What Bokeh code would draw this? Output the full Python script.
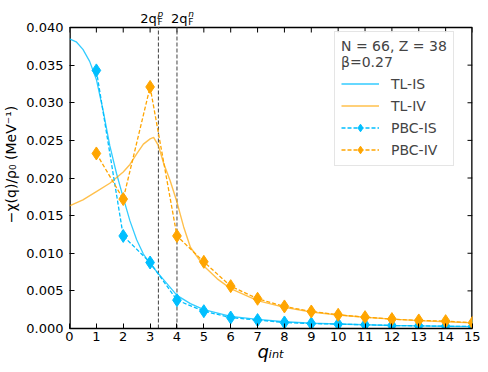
from bokeh.plotting import figure
from bokeh.models import (Legend, LegendItem, FixedTicker, PrintfTickFormatter,
                          Label, Range1d)
from bokeh.embed import file_html
from bokeh.resources import INLINE

# ---- data ----
q_pbc = [1, 2, 3, 4, 5, 6, 7, 8, 9, 10, 11, 12, 13, 14, 15]
pbc_is = [0.0343, 0.0123, 0.00877, 0.00377, 0.0023, 0.00146, 0.00112, 0.0008, 0.00066,
          0.00058, 0.0005, 0.0004, 0.00035, 0.0003, 0.00027]
pbc_iv = [0.02326, 0.0172, 0.0321, 0.0123, 0.00886, 0.00563, 0.00395, 0.00293, 0.00226,
          0.00182, 0.00151, 0.00125, 0.00107, 0.00098, 0.00076]

q_tl_is = [0, 0.25, 0.5, 0.75, 1.0, 1.25, 1.5, 1.75, 2.0, 2.25, 2.5, 2.75, 3.0, 3.31, 3.5,
           4.0, 4.5, 5, 6, 7, 8, 9, 10, 11, 12, 13, 14, 15]
tl_is = [0.0385, 0.0381, 0.0371, 0.0355, 0.0331, 0.0290, 0.0243, 0.0206, 0.0174, 0.0143,
         0.0118, 0.0099, 0.0086, 0.0073, 0.0065, 0.0044, 0.0033, 0.0025, 0.0016, 0.0012,
         0.0009, 0.0007, 0.0006, 0.0005, 0.0004, 0.00035, 0.0003, 0.00026]

q_tl_iv = [0, 0.5, 1.0, 1.5, 2.0, 2.25, 2.5, 2.75, 3.0, 3.13, 3.31, 3.5, 3.75, 4.0, 4.12,
           4.25, 4.5, 5, 5.5, 6, 7, 8, 9, 10, 11, 12, 13, 14, 15]
tl_iv = [0.0163, 0.0171, 0.0182, 0.0193, 0.0208, 0.0218, 0.0232, 0.0245, 0.0252, 0.0254,
         0.0243, 0.0220, 0.0196, 0.0168, 0.0152, 0.0135, 0.0108, 0.0083, 0.0066, 0.0053,
         0.0037, 0.0028, 0.0022, 0.0018, 0.0015, 0.00125, 0.00105, 0.0009, 0.00075]

fermi_lines = [3.31, 4.0]
fermi_label_right = [3.25, 4.39]      # right edge of the "2q" part of each label
fermi_sup = ["p", "n"]
x_ticks = list(range(0, 16))
y_ticks = [0.0, 0.005, 0.01, 0.015, 0.02, 0.025, 0.03, 0.035, 0.04]

FONT = "DejaVu Sans"
IS_C = "#00BFFF"
IV_C = "#FFA500"

# layout (pixels)
W = 480
BL, BR, BB = 69, 8, 36
HEAD = 27                     # strip above the axes box that holds the 2q_F labels
BOX_H = 301                   # height of the axes box
FRAME_W = W - BL - BR
H = HEAD + BOX_H + BB
XMIN, XMAX, YMIN, YMAX = 0, 15, 0, 0.04
PX = (YMAX - YMIN) / BOX_H    # data units per pixel (vertical)
YTOP = YMAX + HEAD * PX
TICK = 5

p = figure(width=W, height=H, x_range=Range1d(XMIN, XMAX), y_range=Range1d(YMIN, YTOP),
           output_backend="svg", toolbar_location=None,
           min_border_left=BL, min_border_right=BR, min_border_top=0, min_border_bottom=BB)
p.grid.visible = False
p.outline_line_color = None

for ax in (p.xaxis[0], p.yaxis[0]):
    ax.major_tick_in = TICK
    ax.major_tick_out = 0
    ax.minor_tick_in = 0
    ax.minor_tick_out = 0
    ax.axis_line_color = "black"
    ax.axis_line_width = 1.3
    ax.major_tick_line_color = "black"
    ax.major_label_text_font = FONT
    ax.major_label_text_font_size = "13px"
    ax.major_label_text_color = "black"
    ax.axis_label_text_font = FONT
    ax.axis_label_text_color = "black"
p.yaxis.axis_line_color = None

p.xaxis.ticker = FixedTicker(ticks=x_ticks)
p.yaxis.ticker = FixedTicker(ticks=y_ticks)
p.yaxis.formatter = PrintfTickFormatter(format="%.3f")
p.xaxis.major_label_standoff = 3
p.yaxis.major_label_standoff = 6
p.xaxis.axis_label = "qᵢₙₜ"
p.xaxis.axis_label_text_font_size = "18px"
p.xaxis.axis_label_text_font_style = "italic"
p.xaxis.axis_label_standoff = -3
p.yaxis.axis_label = "−χ(q)/ρ₀ (MeV⁻¹)"
p.yaxis.axis_label_text_font_size = "14px"
p.yaxis.axis_label_text_font_style = "normal"
p.yaxis.axis_label_standoff = 4

# axes box: left, right and top spines
p.segment(x0=[XMIN, XMAX], y0=[YMIN, YMIN], x1=[XMIN, XMAX], y1=[YMAX, YMAX],
          line_color="black", line_width=2.6)
p.segment(x0=[XMIN], y0=[YMAX], x1=[XMAX], y1=[YMAX], line_color="black", line_width=1.3)

# inward ticks on the top and right spines
dx = TICK * (XMAX - XMIN) / FRAME_W
p.segment(x0=x_ticks, y0=[YMAX] * len(x_ticks), x1=x_ticks,
          y1=[YMAX - TICK * PX] * len(x_ticks), line_color="black", line_width=1)
p.segment(x0=[XMAX] * len(y_ticks), y0=y_ticks, x1=[XMAX - dx] * len(y_ticks), y1=y_ticks,
          line_color="black", line_width=1)

# 2q_F markers
p.segment(x0=fermi_lines, y0=[YMIN] * 2, x1=fermi_lines, y1=[YMAX] * 2,
          line_color="#555555", line_dash="4 2", line_width=1.1)

r_tl_is = p.line(q_tl_is, tl_is, line_color=IS_C, line_alpha=0.8, line_width=1.3)
r_tl_iv = p.line(q_tl_iv, tl_iv, line_color=IV_C, line_alpha=0.7, line_width=1.4)
r_pis_l = p.line(q_pbc, pbc_is, line_color=IS_C, line_dash="4 2", line_width=1.3)
r_pis_m = p.scatter(q_pbc, pbc_is, marker="diamond", size=13, color=IS_C)
r_piv_l = p.line(q_pbc, pbc_iv, line_color=IV_C, line_dash="4 2", line_width=1.3)
r_piv_m = p.scatter(q_pbc, pbc_iv, marker="diamond", size=13, color=IV_C)

for xr, sup in zip(fermi_label_right, fermi_sup):
    p.add_layout(Label(x=xr, y=YMAX + 9.3 * PX, text="2q", text_align="right",
                       text_baseline="alphabetic", text_font=FONT, text_font_size="13px",
                       text_color="black"))
    p.add_layout(Label(x=xr + 0.03, y=YMAX + 6.0 * PX, text="F", text_align="left",
                       text_baseline="alphabetic", text_font=FONT, text_font_size="9px",
                       text_color="black"))
    p.add_layout(Label(x=xr + 0.03, y=YMAX + 13.5 * PX, text=sup, text_align="left",
                       text_baseline="alphabetic", text_font=FONT, text_font_size="9px",
                       text_font_style="italic", text_color="black"))

legend = Legend(items=[
    LegendItem(label="TL-IS", renderers=[r_tl_is]),
    LegendItem(label="TL-IV", renderers=[r_tl_iv]),
    LegendItem(label="PBC-IS", renderers=[r_pis_l, r_pis_m]),
    LegendItem(label="PBC-IV", renderers=[r_piv_l, r_piv_m]),
], location=(265, 162), title="N = 66, Z = 38\nβ=0.27")
legend.title_text_font = FONT
legend.title_text_font_size = "14px"
legend.title_text_font_style = "normal"
legend.title_standoff = 4
legend.label_text_font = FONT
legend.label_text_font_size = "14px"
legend.glyph_width = 38
legend.glyph_height = 19
legend.label_height = 19
legend.label_standoff = 12
legend.spacing = 3
legend.padding = 6
legend.margin = 0
legend.border_line_color = "#cccccc"
legend.background_fill_alpha = 0.85
p.add_layout(legend)

open("out.html", "w").write(file_html(p, INLINE))
